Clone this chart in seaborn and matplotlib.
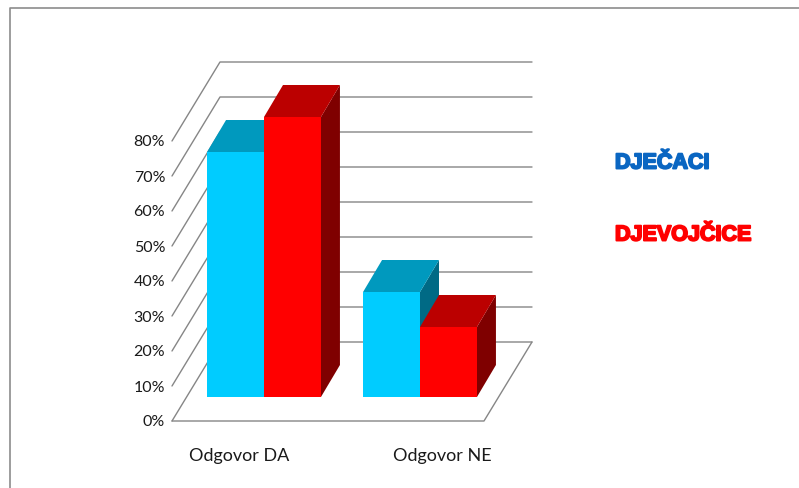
import pandas as pd
import seaborn as sns
import matplotlib.pyplot as plt
import matplotlib.patheffects as pe
from matplotlib.patches import Polygon
from matplotlib.transforms import ScaledTranslation

# values in percent
categories = ['Odgovor DA', 'Odgovor NE']
boys = [70, 30]
girls = [80, 20]
boys_label = 'DJEČACI'
girls_label = 'DJEVOJČICE'
y_ticks = [0, 10, 20, 30, 40, 50, 60, 70, 80]
y_tick_labels = ['0%', '10%', '20%', '30%', '40%', '50%', '60%', '70%', '80%']

front_colors = {boys_label: '#00CCFF', girls_label: '#FF0000'}
top_colors = {boys_label: '#0099BE', girls_label: '#BB0000'}
side_colors = {boys_label: '#006A85', girls_label: '#7F0000'}
grid_color = '#868686'

df = pd.DataFrame({
    'odgovor': categories * 2,
    'spol': [boys_label] * len(boys) + [girls_label] * len(girls),
    'postotak': boys + girls,
})

W, H = 799, 489
sns.set_theme(style='white')
plt.rcParams['font.family'] = ['Lato', 'DejaVu Sans']

fig = plt.figure(figsize=(W / 100, H / 100), dpi=100)
# the axes is the plane of the bar fronts, the 3d look is built around it
left, right, base, top = 186, 498, 398, 118
ax = fig.add_axes([left / W, (H - base) / H, (right - left) / W, (base - top) / H])

sns.barplot(data=df, x='odgovor', y='postotak', hue='spol', palette=front_colors,
            saturation=1, width=0.73, gap=0, legend=False, linewidth=0, ax=ax)
ax.set_xlim(-0.5, 1.5)
ax.set_ylim(0, 80)
ax.set_xlabel('')
ax.set_ylabel('')
sns.despine(ax=ax, left=True, bottom=True)

# pixels to data units
px_x = 2 / (right - left)
px_y = 80 / (base - top)


def shifted(x, y, dx, dy):
    return x + dx * px_x, y - dy * px_y


# floor and back wall
front_dx, front_dy = -14, 24
back_dx, back_dy = 34, -55
for v in y_ticks:
    a = shifted(-0.5, v, front_dx, front_dy)
    b = shifted(-0.5, v, back_dx, back_dy)
    c = shifted(1.5, v, back_dx, back_dy)
    ax.plot([a[0], b[0], c[0]], [a[1], b[1], c[1]], color=grid_color, lw=1,
            clip_on=False, zorder=1)
f0 = shifted(-0.5, 0, front_dx, front_dy)
f1 = shifted(1.5, 0, front_dx, front_dy)
b1 = shifted(1.5, 0, back_dx, back_dy)
ax.plot([f0[0], f1[0], b1[0]], [f0[1], f1[1], b1[1]], color=grid_color, lw=1,
        clip_on=False, zorder=1)

# top and side faces taken from the bars seaborn drew
depth_dx, depth_dy = 19, -32
z = 2
for i in range(len(categories)):
    for container, name in zip(ax.containers, [boys_label, girls_label]):
        bar = container.patches[i]
        x0, x1 = bar.get_x(), bar.get_x() + bar.get_width()
        y1 = bar.get_height()
        side = [(x1, 0), shifted(x1, 0, depth_dx, depth_dy),
                shifted(x1, y1, depth_dx, depth_dy), (x1, y1)]
        roof = [(x0, y1), shifted(x0, y1, depth_dx, depth_dy),
                shifted(x1, y1, depth_dx, depth_dy), (x1, y1)]
        ax.add_patch(Polygon(side, closed=True, fc=side_colors[name], lw=0,
                             clip_on=False, zorder=z))
        ax.add_patch(Polygon(roof, closed=True, fc=top_colors[name], lw=0,
                             clip_on=False, zorder=z + 1))
        bar.set_zorder(z + 2)
        bar.set_clip_on(False)
        z += 3

# tick labels sit on the front edge, not on the bar plane
ax.set_yticks(y_ticks)
ax.set_yticklabels(y_tick_labels)
ax.tick_params(axis='y', length=0, pad=15, labelsize=11.5, labelcolor='#1a1a1a')
ax.tick_params(axis='x', length=0, pad=36, labelsize=13, labelcolor='#1a1a1a')
for lab in ax.get_yticklabels():
    lab.set_transform(lab.get_transform() + ScaledTranslation(0, -23 / 100, fig.dpi_scale_trans))
for lab, dx in zip(ax.get_xticklabels(), [-25, 22]):
    lab.set_transform(lab.get_transform() + ScaledTranslation(dx / 100, 0, fig.dpi_scale_trans))

# hand placed legend, as in the original slide
for label, color, y in [(boys_label, '#0A66C2', 164), (girls_label, '#FF0000', 236)]:
    fig.text(615 / W, (H - y) / H, label, color=color, family='Liberation Sans',
             weight='bold', fontsize=15.5, va='center', ha='left',
             path_effects=[pe.withStroke(linewidth=1.4, foreground=color)])

# outer chart frame
fig.add_artist(plt.Line2D([9.5 / W, 9.5 / W, 1], [0, (H - 9) / H, (H - 9) / H],
                          color='#8c8c8c', lw=1.2))

fig.savefig('out.png', dpi=100)
